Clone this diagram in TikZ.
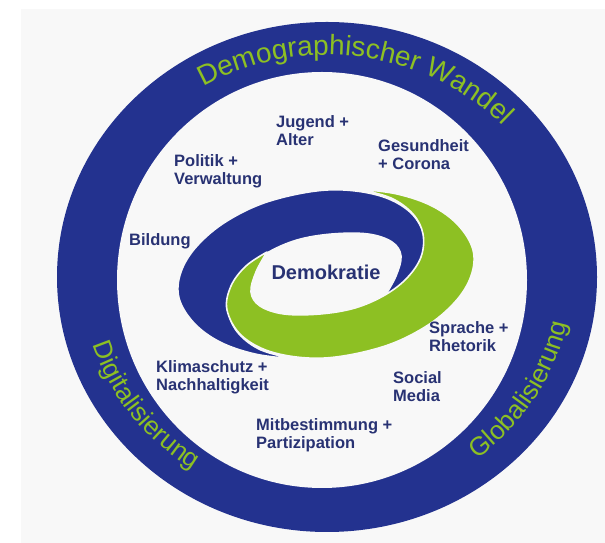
\documentclass[tikz,border=0pt]{standalone}
\usepackage{fontspec}
\setmainfont{Liberation Sans}
\usetikzlibrary{decorations.text}
\definecolor{ringblue}{RGB}{35,50,143}
\definecolor{tgreen}{RGB}{141,192,35}
\definecolor{navy}{RGB}{40,50,115}
\definecolor{bggray}{RGB}{248,248,248}
\tikzset{
  lbl/.style={anchor=north west, align=left, inner sep=0pt, text=navy,
    font=\bfseries\fontsize{16.5}{18}\selectfont},
  ringtext/.style 2 args={decorate, decoration={text along path, text align=center,
    text={|\fontsize{#1}{#1}\selectfont\color{tgreen}|#2}}},
  armfill/.style={fill=#1, draw=bggray, line width=1.6pt, line join=round}
}
\begin{document}
\begin{tikzpicture}[x=1pt,y=1pt]
\useasboundingbox (0,0) rectangle (605,543);
\fill[white] (0,0) rectangle (605,543);
\fill[bggray] (21,0) rectangle (605,534);
% outer ring
\fill[ringblue] (327,266) ellipse [x radius=270, y radius=255];
\fill[bggray] (322,263) ellipse [x radius=205, y radius=208];
% ring texts
\path[ringtext={28}{Demographischer Wandel}] (327,266) ++(161.5:240 and 222)
  arc[start angle=161.5, end angle=1.5, x radius=240, y radius=222];
\path[ringtext={26}{Digitalisierung}] (327,266) ++(176.5:245 and 230)
  arc[start angle=176.5, end angle=256.5, x radius=245, y radius=230];
\path[ringtext={26}{Globalisierung}] (327,266) ++(-71.5:245 and 230)
  arc[start angle=-71.5, end angle=8.5, x radius=245, y radius=230];
% spiral
\begin{scope}[shift={(0,543)}, yscale=-1]
  \path[armfill=ringblue] plot[smooth, tension=0.6] coordinates {(294,359) (255,354) (220,342) (194,323) (179,298) (181,272) (197,246) (227,221) (270,201) (327,190) (377,195) (410,212) (425,238) (421,262) (406,282) (385,296)}
    -- plot[smooth, tension=0.6] coordinates {(385,296) (396,276) (401,256) (392,242) (368,234) (332,234) (297,240) (267,253) (245,270) (231,291) (229,314) (239,334) (261,350) (294,359)} -- cycle;
  \begin{scope}[rotate around={180:(326,274)}]
  \path[armfill=tgreen] plot[smooth, tension=0.6] coordinates {(294,359) (255,354) (220,342) (194,323) (179,298) (181,272) (197,246) (227,221) (270,201) (327,190) (377,195) (410,212) (425,238) (421,262) (406,282) (385,296)}
    -- plot[smooth, tension=0.6] coordinates {(385,296) (396,276) (401,256) (392,242) (368,234) (332,234) (297,240) (267,253) (245,270) (231,291) (229,314) (239,334) (261,350) (294,359)} -- cycle;
  \end{scope}
\end{scope}
% labels
\node[text=navy, inner sep=0pt, font=\bfseries\fontsize{20}{24}\selectfont] (demo) at (326,270.5) {Demokratie};
\node[lbl] (jugend) at (276,428) {Jugend +\\Alter};
\node[lbl] (politik) at (174,389) {Politik +\\Verwaltung};
\node[lbl] (gesund) at (378,404) {Gesundheit\\+ Corona};
\node[lbl] (bildung) at (129,310) {Bildung};
\node[lbl] (sprache) at (429,222) {Sprache +\\Rhetorik};
\node[lbl] (klima) at (156,183) {Klimaschutz +\\Nachhaltigkeit};
\node[lbl] (social) at (393,172) {Social\\Media};
\node[lbl] (mitbest) at (256,125) {Mitbestimmung +\\Partizipation};
\end{tikzpicture}
\end{document}
